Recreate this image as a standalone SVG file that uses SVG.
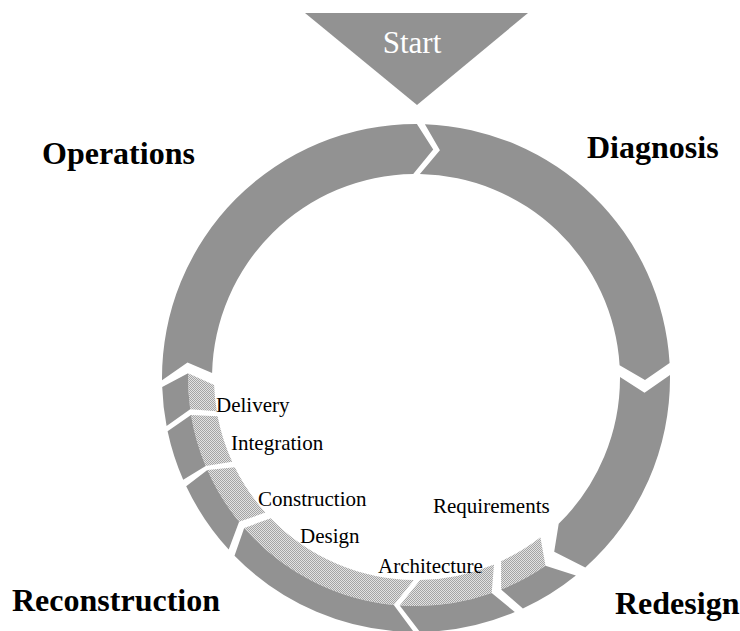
<svg xmlns="http://www.w3.org/2000/svg" width="740" height="631" viewBox="0 0 740 631">
<defs>
<pattern id="hatch" width="2" height="2" patternUnits="userSpaceOnUse">
<rect width="2" height="2" fill="#e2e2e2"/>
<rect width="1" height="1" fill="#a4a4a4"/>
<rect x="1" y="1" width="1" height="1" fill="#a4a4a4"/>
</pattern>
<style>
.seg{fill:#929292;stroke:none}
.top{fill:url(#hatch);stroke:none}
.big{font-family:"Liberation Serif","Times New Roman",serif;font-weight:bold;font-size:32px;fill:#000}
.small{font-family:"Liberation Serif","Times New Roman",serif;font-size:21px;fill:#000}
</style>
</defs>
<rect width="740" height="631" fill="#ffffff"/>
<g id="start">
<polygon class="seg" points="305,13 528,13 417,105"/>
<text x="412" y="53" text-anchor="middle" font-family="Liberation Serif, Times New Roman, serif" font-size="31" fill="#ffffff">Start</text>
</g>
<g id="diagnosis">
<path class="seg" d="M424.9,124.2 A254,254 0 0 1 669.6,362.9 L645.0,380.0 L619.6,365.2 A204,204 0 0 0 419.9,174.0 L439.9,150.3 Z"/>
<text class="big" x="587" y="158">Diagnosis</text>
</g>
<g id="redesign">
<path class="seg" d="M670.0,374.9 A254,254 0 0 1 585.3,567.4 L554.2,551.7 L558.7,523.8 A204,204 0 0 0 620.0,376.9 L644.5,392.8 Z"/>
<text class="big" x="615" y="614">Redesign</text>
</g>
<g id="requirements">
<path class="top" d="M540.4,537.2 L545.5,565.7 A228,228 0 0 1 501.1,589.5 L501.1,561.2 A202,202 0 0 0 540.4,537.2 Z"/>
<path class="seg" d="M545.5,565.7 L575.9,575.4 A254,254 0 0 1 522.9,608.4 L501.1,589.5 A228,228 0 0 0 545.5,565.7 Z"/>
<text class="small" x="433" y="513">Requirements</text>
</g>
<g id="architecture">
<path class="top" d="M494.0,564.4 L491.7,593.1 A228,228 0 0 1 399.7,605.4 L420.2,580.0 A202,202 0 0 0 494.0,564.4 Z"/>
<path class="seg" d="M491.7,593.1 L514.8,612.0 A254,254 0 0 1 420.0,632.0 L399.7,605.4 A228,228 0 0 0 491.7,593.1 Z"/>
<text class="small" x="378" y="573">Architecture</text>
</g>
<g id="design">
<path class="top" d="M413.9,580.0 L393.8,604.9 A228,228 0 0 1 244.2,527.9 L270.7,518.3 A202,202 0 0 0 413.9,580.0 Z"/>
<path class="seg" d="M393.8,604.9 L413.8,632.0 A254,254 0 0 1 234.5,555.7 L244.2,527.9 A228,228 0 0 0 393.8,604.9 Z"/>
<text class="small" x="300" y="543">Design</text>
</g>
<g id="construction">
<path class="top" d="M265.4,512.6 L239.1,521.8 A228,228 0 0 1 207.4,470.0 L234.8,467.2 A202,202 0 0 0 265.4,512.6 Z"/>
<path class="seg" d="M239.1,521.8 L228.7,549.6 A254,254 0 0 1 186.2,486.2 L207.4,470.0 A228,228 0 0 0 239.1,521.8 Z"/>
<text class="small" x="258" y="506">Construction</text>
</g>
<g id="integration">
<path class="top" d="M232.2,461.8 L205.7,466.0 A228,228 0 0 1 191.0,414.9 L217.6,416.2 A202,202 0 0 0 232.2,461.8 Z"/>
<path class="seg" d="M205.7,466.0 L183.2,479.7 A254,254 0 0 1 167.6,431.2 L191.0,414.9 A228,228 0 0 0 205.7,466.0 Z"/>
<text class="small" x="231" y="450">Integration</text>
</g>
<g id="delivery">
<path class="top" d="M216.8,411.3 L190.2,409.3 A228,228 0 0 1 188.1,373.2 L214.1,385.1 A202,202 0 0 0 216.8,411.3 Z"/>
<path class="seg" d="M190.2,409.3 L166.6,426.0 A254,254 0 0 1 162.2,386.9 L188.1,373.2 A228,228 0 0 0 190.2,409.3 Z"/>
<text class="small" x="216" y="412">Delivery</text>
</g>
<g id="operations">
<path class="seg" d="M162.0,380.2 A254,254 0 0 1 416.9,124.0 L433.2,149.6 L413.2,174.0 A204,204 0 0 0 212.1,373.0 L187.5,362.4 Z"/>
<text class="big" x="42" y="164">Operations</text>
</g>
<g id="reconstruction">
<text class="big" x="12" y="611">Reconstruction</text>
</g>
<g id="connectors"/>
</svg>
